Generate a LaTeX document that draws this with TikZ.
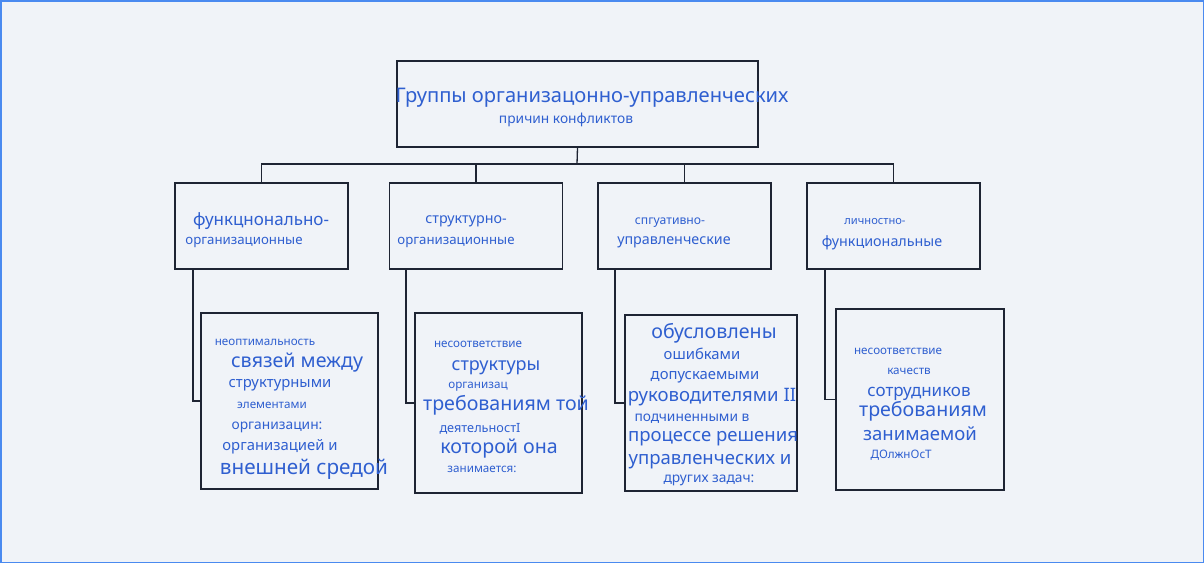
\documentclass[tikz,border=0pt]{standalone}
\usepackage{fontspec}
\setmainfont{Noto Sans}
\usetikzlibrary{positioning}
\definecolor{bgcol}{HTML}{F0F3F8}
\definecolor{edgecol}{HTML}{4A8AF0}
\definecolor{txtcol}{HTML}{2F5FD0}
\definecolor{boxcol}{HTML}{1E2433}
\tikzset{
	box/.style={draw=boxcol, line width=1.3pt, inner sep=0pt},
	txt/.style={text=txtcol, inner sep=0pt, anchor=center, yshift=-1.5pt},
	link/.style={draw=boxcol, line width=1.3pt},
}
\newcommand{\fs}[1]{\fontsize{\fpeval{1.06*#1}}{\fpeval{1.06*#1}}\selectfont}
\begin{document}
\begin{tikzpicture}
	[
	x=1pt, y=-1pt
	%Pixelraster des Originals
	]
	
	%Hintergrund
	\draw[edgecol, fill=bgcol, line width=1.5pt] (0.75,0.75) rectangle (1203.25,562.25);
	
	%Kopfbox
	\node[box, minimum width=361pt, minimum height=86pt] (top) at (577.5,104) {};
	\node[txt, font=\fs{19}] (t1) at (592,96) {Группы организацонно-управленческих};
	\node[txt, font=\fs{13}] (t2) at (566,118) {причин конфликтов};
	
	%Gruppenboxen
	\foreach \n/\x in {a/261.5, b/476, c/684.5, d/893.5}
	\node[box, minimum width=173pt, minimum height=86pt] (\n) at (\x,226) {};
	
	%Verbindungen oben
	\coordinate (j) at (577,164);
	\draw[link] (top.south) -- (j);
	\draw[link] (a.north) |- (j) -| (d.north);
	\draw[link] (b.north) -- (b.north |- j);
	\draw[link] (c.north) -- (c.north |- j);
	
	%Texte Gruppenboxen
	\node[txt, font=\fs{16}] at (261,220) {функцнонально-};
	\node[txt, font=\fs{12.5}] at (244,241) {организационные};
	\node[txt, font=\fs{13.5}] at (466,220) {структурно-};
	\node[txt, font=\fs{12.5}] at (456,241) {организационные};
	\node[txt, font=\fs{11.5}] at (670,221) {спгуативно-};
	\node[txt, font=\fs{13.5}] at (674,241) {управленческие};
	\node[txt, font=\fs{10.5}] at (875,220) {личностно-};
	\node[txt, font=\fs{13.5}] at (882,241) {функциональные};
	
	%Detailboxen
	\node[box, minimum width=177pt, minimum height=176pt] (a2) at (289.5,401) {};
	\node[box, minimum width=167pt, minimum height=180pt] (b2) at (498.5,403) {};
	\node[box, minimum width=172pt, minimum height=176pt] (c2) at (711,403) {};
	\node[box, minimum width=168pt, minimum height=181pt] (d2) at (920,399.5) {};
	
	%Klammern
	\draw[link] (193,269) |- (a2.west);
	\draw[link] (406,269) |- (b2.west);
	\draw[link] (615,269) |- (c2.west);
	\draw[link] (825,269) |- (d2.west);
	
	%Texte Box 1
	\node[txt, font=\fs{11}] at (265,341) {неоптимальность};
	\node[txt, font=\fs{18.5}] at (297,361) {связей между};
	\node[txt, font=\fs{14}] at (280,384) {структурными};
	\node[txt, font=\fs{11}] at (272,404) {элементами};
	\node[txt, font=\fs{13}] at (277,426) {организацин:};
	\node[txt, font=\fs{14}] at (280,445) {организацией и};
	\node[txt, font=\fs{19.5}] at (304,468) {внешней средой};
	
	%Texte Box 2
	\node[txt, font=\fs{11}] at (478,343) {несоответствие};
	\node[txt, font=\fs{17}] at (496,366) {структуры};
	\node[txt, font=\fs{11}] at (478,385) {организац};
	\node[txt, font=\fs{18.5}] at (506,404) {требованиям той};
	\node[txt, font=\fs{12}] at (480,427) {деятельностI};
	\node[txt, font=\fs{18.5}] at (499,447) {которой она};
	\node[txt, font=\fs{11}] at (482,468) {занимается:};
	
	%Texte Box 3
	\node[txt, font=\fs{18.5}] at (714,332) {обусловлены};
	\node[txt, font=\fs{14}] at (702,352) {ошибками};
	\node[txt, font=\fs{14}] at (705,376) {допускаемыми};
	\node[txt, font=\fs{17.5}] at (712,396) {руководителями II};
	\node[txt, font=\fs{13}] at (692,417) {подчиненными в};
	\node[txt, font=\fs{17.5}] at (713,437) {процессе решения};
	\node[txt, font=\fs{17.5}] at (710,460) {управленческих и};
	\node[txt, font=\fs{13}] at (709,479) {других задач:};
	
	%Texte Box 4
	\node[txt, font=\fs{11}] at (898,350) {несоответствие};
	\node[txt, font=\fs{11}] at (909,370) {качеств};
	\node[txt, font=\fs{16}] at (919,392) {сотрудников};
	\node[txt, font=\fs{18.5}] at (923,410) {требованиям};
	\node[txt, font=\fs{17.5}] at (920,432) {занимаемой};
	\node[txt, font=\fs{11}] at (901,454) {ДОлжнОсТ};
\end{tikzpicture}
\end{document}
